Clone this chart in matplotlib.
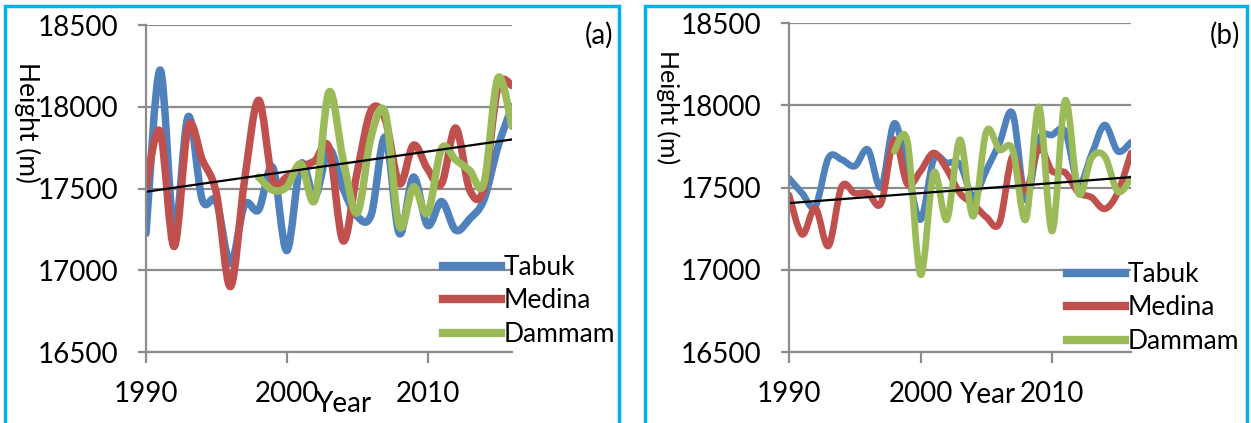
import numpy as np
import matplotlib
matplotlib.use('Agg')
import matplotlib.pyplot as plt
from matplotlib.path import Path
from matplotlib.patches import PathPatch, Rectangle
from matplotlib.lines import Line2D

plt.rcParams['font.family'] = ['Lato', 'DejaVu Sans']

years = list(range(1990, 2017))
dammam_years = list(range(1998, 2017))

# panel (a)
tabuk_a = [17225, 18225, 17250, 17940, 17430, 17420, 17040, 17400, 17370, 17630,
           17120, 17650, 17450, 17740, 17500, 17330, 17340, 17815, 17225, 17570,
           17275, 17420, 17245, 17315, 17430, 17755, 18000]
medina_a = [17510, 17850, 17145, 17880, 17675, 17470, 16900, 17550, 18040, 17550,
            17570, 17630, 17670, 17750, 17180, 17600, 17980, 17920, 17530, 17765,
            17620, 17530, 17870, 17490, 17500, 18120, 18130]
dammam_a = [17570, 17490, 17510, 17650, 17430, 18090, 17680, 17350, 17820, 17960,
            17270, 17510, 17350, 17745, 17675, 17610, 17530, 18175, 17880]
trend_a = [17480, 17800]

# panel (b)
tabuk_b = [17556, 17465, 17385, 17680, 17670, 17630, 17730, 17500, 17890, 17600,
           17305, 17670, 17650, 17640, 17445, 17605, 17770, 17950, 17425, 17790,
           17820, 17840, 17520, 17700, 17880, 17720, 17775]
medina_b = [17455, 17215, 17375, 17145, 17505, 17465, 17465, 17405, 17790, 17520,
            17600, 17710, 17610, 17465, 17400, 17320, 17285, 17690, 17480, 17740,
            17600, 17590, 17470, 17440, 17370, 17470, 17710]
dammam_b = [17720, 17780, 16970, 17590, 17305, 17790, 17325, 17840, 17730, 17730,
            17305, 17990, 17235, 18030, 17465, 17680, 17690, 17475, 17555]
trend_b = [17405, 17563]

names = ['Tabuk', 'Medina', 'Dammam']
colors = ['#4F81BD', '#C0504D', '#9BBB59']
yticks = [16500, 17000, 17500, 18000, 18500]
xticks = [1990, 2000, 2010]

W, H = 1251, 423
fig = plt.figure(figsize=(W / 100, H / 100), dpi=100)


def smooth(ax, x, y, color, lw):
    # excel style smoothed line (bezier through the yearly values)
    x = np.asarray(x, float)
    y = np.asarray(y, float)
    px = np.r_[x[0], x, x[-1]]
    py = np.r_[y[0], y, y[-1]]
    verts = [(x[0], y[0])]
    codes = [Path.MOVETO]
    for i in range(len(x) - 1):
        c1 = (x[i] + (px[i + 2] - px[i]) / 6, y[i] + (py[i + 2] - py[i]) / 6)
        c2 = (x[i + 1] - (px[i + 3] - px[i + 1]) / 6, y[i + 1] - (py[i + 3] - py[i + 1]) / 6)
        verts += [c1, c2, (x[i + 1], y[i + 1])]
        codes += [Path.CURVE4] * 3
    ax.add_patch(PathPatch(Path(verts, codes), fc='none', ec=color, lw=lw,
                           capstyle='round', joinstyle='round'))


def fx(px):
    return px / W


def fy(py):
    return 1 - py / H


def panel(x0, x1, y0, series, trend, tag, tagx, legx, legy, yearx, yeary,
          labx, laby, labsize, lw):
    ax = fig.add_axes([fx(x0), fy(352), fx(x1) - fx(x0), fy(y0) - fy(352)])
    series_x = [years, years, dammam_years]
    for xs, ys, c in zip(series_x, series, colors):
        smooth(ax, xs, ys, c, lw)
    ax.plot([years[0], years[-1]], trend, color='black', lw=1.6)
    ax.set_xlim(1990, 2016)
    ax.set_ylim(16500, 18500)
    ax.set_xticks(xticks)
    ax.set_yticks(yticks)
    ax.yaxis.grid(True, color='#8c8c8c', lw=1.6)
    ax.set_axisbelow(True)
    for s in ['top', 'right']:
        ax.spines[s].set_visible(False)
    for s in ['left', 'bottom']:
        ax.spines[s].set_color('#8c8c8c')
        ax.spines[s].set_linewidth(1.6)
    ax.tick_params(axis='both', colors='#8c8c8c', labelcolor='black',
                   labelsize=20, width=1.6)
    ax.tick_params(axis='y', length=6, pad=14)
    ax.tick_params(axis='x', length=8, pad=13)
    handles = [Line2D([], [], color=c, lw=6) for c in colors]
    ax.legend(handles, names, loc='upper left',
              bbox_to_anchor=(fx(legx), fy(legy)), bbox_transform=fig.transFigure,
              frameon=False, borderpad=0, borderaxespad=0, handlelength=2.2,
              handletextpad=0.1, labelspacing=0.32, fontsize=19)
    fig.text(fx(tagx), fy(35), tag, ha='right', va='center', size=20)
    fig.text(fx(yearx), fy(yeary), 'Year', ha='center', va='center', size=20)
    fig.text(fx(labx), fy(laby), 'Height (m)', ha='center', va='center',
             rotation=270, size=labsize)
    return ax


panel(146, 512, 25, [tabuk_a, medina_a, dammam_a], trend_a, '(a)', 613,
      443, 255, 343, 404, 27, 122, 19, 5.4)
panel(789, 1131, 23, [tabuk_b, medina_b, dammam_b], trend_b, '(b)', 1240,
      1067, 262, 987, 395, 668, 107, 18, 4.8)

fig.add_artist(Rectangle((fx(5), -0.05), fx(619) - fx(5), fy(6) + 0.05,
                         transform=fig.transFigure, fc='none', ec='#00B0F0', lw=2.5))
fig.add_artist(Rectangle((fx(645), -0.05), fx(1247) - fx(645), fy(6) + 0.05,
                         transform=fig.transFigure, fc='none', ec='#00B0F0', lw=2.5))

fig.savefig('out.png', dpi=100)
